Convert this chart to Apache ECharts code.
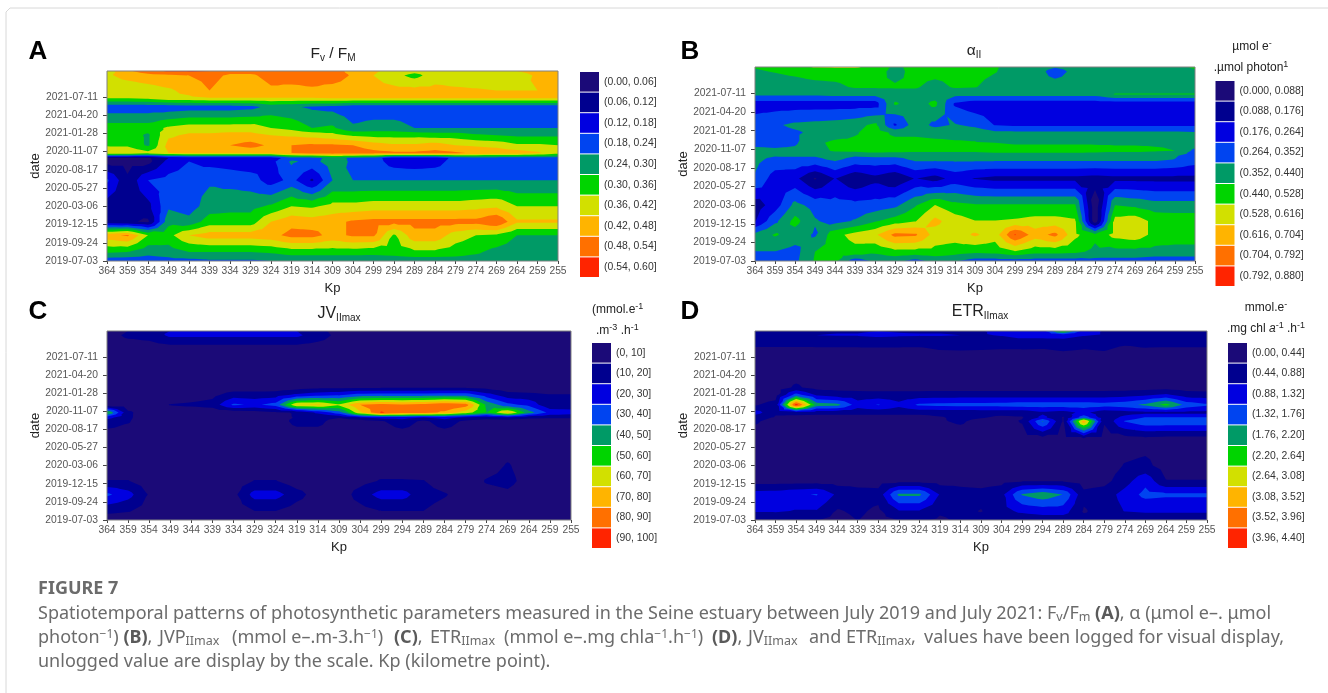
<!DOCTYPE html>
<html><head><meta charset="utf-8"><style>html,body{margin:0;padding:0;background:#fff}#c{width:1328px;height:693px;filter:blur(.4px)}</style>
<script src="https://cdn.jsdelivr.net/npm/echarts@6/dist/echarts.min.js"></script></head><body><div id="c"></div>
<script>
const kpLabels=['364','359','354','349','344','339','334','329','324','319','314','309','304','299','294','289','284','279','274','269','264','259','255'];
const dateLabels=['2019-07-03','2019-09-24','2019-12-15','2020-03-06','2020-05-27','2020-08-17','2020-11-07','2021-01-28','2021-04-20','2021-07-11'];
// sampling rows, in date-tick units from the bottom of the axis
const rowPositions=[0,.5,1.41,2.15,3,4.43,5.45,5.65,5.92,6.35,6.9,7.3,8.45,8.95,9.35,10.18,10.42];
const palette=['#1b0a78','#00008f','#0000e0','#0044f0','#009a66','#00d400','#d2e000','#ffb400','#ff7000','#ff2400'];
// Fv/Fm x100, one row per rowPositions entry, one column per kpLabels entry
const fvfmValues=[
[20,20,21,22,22,23,23,23,24,25,25,25,25,26,26,26,26,27,27,27,26,26,26],
[31,30,26,27,30,30,30,30,31,33,33,33,33,32,33,35,35,33,31,28,27,27,27],
[46,49,36,34,42,45,45,45,46,50,50,46,49,49,35,46,46,39,36,35,30,30,30],
[8,7,5,28,26,33,33,33,42,46,45,46,49,50,50,50,50,50,50,54,43,43,43],
[9,7,10,23,21,27,28,28,31,36,35,38,38,39,39,39,39,39,40,41,36,36,36],
[19,7,18,20,21,23,22,21,15,20,11,24,24,24,24,24,24,24,24,24,24,24,24],
[4,4,4,14,18,16,15,14,16,25,22,27,23,21,15,14,15,21,21,21,21,21,21],
[5,5,5,12,13,13,13,13,14,22,22,26,23,21,14,14,14,20,21,21,21,21,21],
[42,41,38,42,43,43,43,44,44,48,50,51,51,50,49,49,50,49,47,46,45,43,38],
[35,35,29,44,45,46,48,50,47,48,49,49,48,45,43,43,45,42,41,40,37,37,36],
[33,33,29,41,43,43,44,44,42,41,40,38,35,34,34,34,33,33,31,30,29,29,29],
[33,33,33,37,39,39,39,39,36,34,30,31,25,26.5,26.5,24,24,24,24,24,24,24,24],
[20,20,20,20,21,21,21,22,26,25,23,22,20,20,20,20,20,20,20,20,20,20,20],
[37,37,38,41,41,42,42,42,42,42,42,43,43,43,43,43,43,43,43,43,43,43,43],
[38,38,39,41,44,48,45,44,47,46,47,45,44,44,44,44,44,43,42.5,42,42,42,42],
[41,44,46,47,48,50,47,47,50,51,51,52,47,42,38,34,39,39,39,39,39,43,44],
[39,47,51,55,55,54,50,50,50,51,52,52,45,43,40,38,39,40,41,41,42,44,44]];
// alpha x100
const alphaValues=[
[30,30,33,45,46,30,37,38,32,38,36,31,31,31,31,31,31,32,32,32,30,30,30],
[35,35,32,44,47,50,46,50,50,50,48,46,47,52,47,47,46,42,41,41,41,41,41],
[38,45,40,34,50,56,60,73,72,58,57,63,57,80,66,73,55,46,56,58,50,48,48],
[17,33,47,36,32,36,43,48,52,64,57,53,53,54,56,56,54,2,56,58,50,49,49],
[13,22,38,32,30,29,30,33,43,53,47,45,45,45,45,45,45,2,44,42,39,39,39],
[34,22,20,8,18,10,15,10,18,14,21,17,15,15,15,15,15,14,15,15,15,15,15],
[38,32,33,33,37,32,32,32,37,37,37,37,37,37,37,37,37,37,37,37,37,35,31],
[38,36,36,36,38,36,37,37,38,38,38,38,38,38,38,38,38,38,38,38,38,36,31],
[38,37,37,41,45,46,48,47,46,46,46,46,48,48,48,48,48,47,46,46,45,44,33],
[32,32,34,42,46,46,47,47,47,46,45,44.5,44,43,43,43,43,43,43,43,43,43,40],
[32,32,34,37,39,43,48,42,42,41,41,41,37,37,37,37,37,37,37,37,37,37,36],
[31,34,37,38,39,41,46,25,40,33,36,33,26,25,25,25,25,25,25,25,25,25,25],
[22,22,22,22,22,22,22,45,40,46,25,21,21,21,21,21,21,21,21,21,21,21,21],
[37,37,37,37,38,38,38,40,40,40,38,38,38,38,38,38,38,38,44.5,44.5,44.5,44.5,44.5],
[38,39,40,41,42,45,45,45,45,41,45,44.5,40,40,40,40,40,40,40,40,40,40,40],
[43,44.5,46,48,48,49,48,41,47,47,47,47,44.5,40,40,31,38,38,38,38,39,40,43],
[44.5,46,50,53.5,54,54,50,42,47,47,47,47,45,40,40,36,38,38,38,38,38,42,45]];
const jvValues=[
[3,3,3,3,3,3,3,3,3,3,3,3,3,3,3,3,3,3,3,3,3,3,3],
[13,11,5,3,3,3,4,10,10,5,3,3,6,10,10,10,6,3,3,3,3,3,3],
[32,24,9,4,3,3,7,24,24,14,5,3,15,24,24,14,11,5,6,8,4,3,3],
[10.5,10.5,4,3,3,3,4,10.5,10.5,4,3,3,6,11,11,10.5,4,3,11,13,6,3,3],
[3,3,3,3,3,3,3,3,3,3,3,3,3,3,3,3,3,3,5,11,5,3,3],
[3,3,3,3,3,3,3,3,3,3,3,3,3,3,3,3,3,3,3,3,3,3,3],
[15,11,3,3,3,3,3,3,5,13,13,5,5,9,15,8,15,8,5,5,5,6,6],
[24,12,3,3,3,3,3,3,6,11,12,11,19,24,24,20,24,18,14,18,12,11,11],
[52,12,4,3,3,3,3,5,8,11,22,35,68,91,85,84,78,65,50,72,45,27,25],
[4,4,4,10.5,12,14,32,28,34,70,72,62,80,84,82,84,89,85,48,33,27,12,12],
[3,3,3,3,4,7,15,14,15,22,26,28,34,35,35,35,36,36,24,14,13,10.5,10.5],
[3,3,3,3,3,3,4,5,5,6,8,8,9,9,9,9,9,9,7,4,3,3,3],
[3,3,3,3,3,3,3,3,3,3,3,3,3,3,3,3,3,3,3,3,3,3,3],
[3,3,3,3,3,3,3,3,3,3,3,3,3,3,3,3,3,3,3,3,3,3,3],
[3,3,3,3,3,3,3,3,3,3,3,3,3,3,3,3,3,3,3,3,3,3,3],
[6,12,14,22,22,22,22,22,22,22,15,7,4,3,3,3,3,3,3,3,3,3,3],
[4,10,18,20,20,20,20,20,20,20,13,6,3,3,3,3,3,3,3,3,3,3,3]];
// ETR x100
const etrValues=[
[40,42,50,46,30,45,30,45,50,38,50,55,55,50,60,60,55,55,60,60,60,60,60],
[95,95,85,85,40,52,35,85,85,50,55,42,70,100,110,110,40,60,90,95,95,95,95],
[110,112,125,135,80,65,60,185,185,85,70,60,75,180,205,175,55,65,105,145,140,140,140],
[25,25,25,25,25,25,25,30,30,25,25,25,30,40,40,40,25,30,70,120,46,46,46],
[20,20,20,20,20,20,20,20,20,20,20,20,20,20,20,20,20,20,47,55,25,20,20],
[20,20,20,20,20,20,20,20,20,20,20,20,20,20,20,20,20,20,20,25,20,20,20],
[50,28,20,20,20,20,20,20,20,40,50,30,25,48,180,40,340,50,135,165,165,165,165],
[60,40,25,25,25,25,25,25,25,40,55,48,35,40,100,40,160,60,100,135,135,135,135],
[110,50,65,58,58,58,58,58,58,58,58,60,60,60,80,70,100,60,70,75,75,75,75],
[40,60,420,200,190,110,135,100,140,145,148,148,150,155,155,155,155,150,160,185,235,160,140],
[20,25,150,80,65,60,62,62,64,65,65,65,65,65,65,65,65,65,70,80,95,65,60],
[25,25,50,30,30,30,25,25,25,25,25,25,25,25,25,25,25,25,25,25,30,25,25],
[20,20,20,20,20,20,20,20,20,20,20,20,20,20,20,20,20,20,20,20,20,20,20],
[20,20,20,20,20,20,20,20,20,20,20,20,20,20,20,20,20,20,20,20,20,20,20],
[32,32,32,32,32,32,32,32,32,43,44,43,40,40,38,47,40,46,28,36,34,34,34],
[85,85,85,88,90,90,95,92,90,90,88,85,90,100,100,100,90,85,80,80,80,80,80],
[80,80,85,85,85,85,88,85,85,85,85,85,100,110,115,240,110,85,80,80,80,80,80]];
const fvfmLevels=[0,6,12,18,24,30,36,42,48,54,60];
const alphaLevels=[0,8.8,17.6,26.4,35.2,44,52.8,61.6,70.4,79.2,88];
const jvLevels=[0,10,20,30,40,50,60,70,80,90,100];
const etrLevels=[0,44,88,132,176,220,264,308,352,396,440];
const fvfmLegend=['(0.00, 0.06]','(0.06, 0.12]','(0.12, 0.18]','(0.18, 0.24]','(0.24, 0.30]','(0.30, 0.36]','(0.36, 0.42]','(0.42, 0.48]','(0.48, 0.54]','(0.54, 0.60]'];
const alphaLegend=['(0.000, 0.088]','(0.088, 0.176]','(0.176, 0.264]','(0.264, 0.352]','(0.352, 0.440]','(0.440, 0.528]','(0.528, 0.616]','(0.616, 0.704]','(0.704, 0.792]','(0.792, 0.880]'];
const jvLegend=['(0, 10]','(10, 20]','(20, 30]','(30, 40]','(40, 50]','(50, 60]','(60, 70]','(70, 80]','(80, 90]','(90, 100]'];
const etrLegend=['(0.00, 0.44]','(0.44, 0.88]','(0.88, 1.32]','(1.32, 1.76]','(1.76, 2.20]','(2.20, 2.64]','(2.64, 3.08]','(3.08, 3.52]','(3.52, 3.96]','(3.96, 4.40]'];

const panels=[
 {m:fvfmValues,lv:fvfmLevels,lg:fvfmLegend,g:{left:107,top:71,width:451,height:190},leg:{left:580,top:72}},
 {m:alphaValues,lv:alphaLevels,lg:alphaLegend,g:{left:755,top:67,width:440,height:194},leg:{left:1215.5,top:81}},
 {m:jvValues,lv:jvLevels,lg:jvLegend,g:{left:107,top:331,width:464,height:189},leg:{left:592,top:343}},
 {m:etrValues,lv:etrLevels,lg:etrLegend,g:{left:755,top:331,width:452,height:189},leg:{left:1228,top:343}}
];
// region of the surface at or above a level: polygons in data coordinates
function clipAbove(poly,level){
 const out=[];
 for(let i=0;i<poly.length;i++){
  const a=poly[i],b=poly[(i+1)%poly.length];
  const ia=a[2]>=level, ib=b[2]>=level;
  if(ia)out.push(a);
  if(ia!==ib){const t=(level-a[2])/(b[2]-a[2]);out.push([a[0]+t*(b[0]-a[0]),a[1]+t*(b[1]-a[1]),level]);}
 }
 return out;
}
function regionAbove(m,level){
 const res=[];
 for(let r=0;r<m.length-1;r++)for(let c=0;c<m[r].length-1;c++){
  const y0=rowPositions[r],y1=rowPositions[r+1];
  const A=[c,y0,m[r][c]],B=[c+1,y0,m[r][c+1]],C=[c+1,y1,m[r+1][c+1]],D=[c,y1,m[r+1][c]];
  const n=[A,B,C,D].filter(p=>p[2]>=level).length;
  if(n===0)continue;
  if(n===4){res.push([A,B,C,D]);continue;}
  const E=[c+.5,(y0+y1)/2,(A[2]+B[2]+C[2]+D[2])/4];
  [[A,B,E],[B,C,E],[C,D,E],[D,A,E]].forEach(tri=>{const p=clipAbove(tri,level);if(p.length>=3)res.push(p);});
 }
 return res;
}
const option={animation:false,backgroundColor:'#fff',grid:[],xAxis:[],yAxis:[],series:[],legend:[],textStyle:{fontFamily:'Liberation Sans'}};
panels.forEach((p,i)=>{
 option.grid.push(p.g);
 option.xAxis.push({type:'value',gridIndex:i,min:0,max:22,interval:1,name:'Kp',nameLocation:'middle',nameGap:21,
  nameTextStyle:{fontSize:13,color:'#222',fontFamily:'Liberation Sans'},splitLine:{show:false},
  axisLine:{show:false,onZero:false},axisTick:{length:3,lineStyle:{color:'#444'}},
  axisLabel:{fontSize:10.3,color:'#555',margin:5,hideOverlap:false,showMinLabel:true,showMaxLabel:true,formatter:v=>kpLabels[v]}});
 option.yAxis.push({type:'value',gridIndex:i,min:0,max:10.42,name:'date',nameLocation:'middle',nameGap:65,
  nameTextStyle:{fontSize:13,color:'#222',fontFamily:'Liberation Sans'},splitLine:{show:false},
  axisLine:{show:false,onZero:false},axisTick:{length:4,lineStyle:{color:'#444'},customValues:[0,1,2,3,4,5,6,7,8,9]},
  axisLabel:{fontSize:10.3,color:'#555',margin:9,customValues:[0,1,2,3,4,5,6,7,8,9],formatter:v=>dateLabels[v]}});
 p.lg.forEach((name,b)=>{
  const col=palette[b], polys=regionAbove(p.m,p.lv[b]);
  option.series.push({type:'custom',name,xAxisIndex:i,yAxisIndex:i,coordinateSystem:'cartesian2d',silent:true,clip:true,
   itemStyle:{color:col},data:polys.length?[[0]]:[],encode:{x:[],y:[]},
   renderItem:(params,api)=>{
    const d=polys.map(poly=>'M'+poly.map(q=>{const c=api.coord([q[0],q[1]]);return c[0].toFixed(2)+' '+c[1].toFixed(2);}).join('L')+'Z').join('');
    return {type:'path',shape:{pathData:d},style:{fill:col}};
   }});
 });
 option.series.push({type:'custom',name:'border'+i,xAxisIndex:i,yAxisIndex:i,silent:true,clip:false,z:10,data:[[0]],encode:{x:[],y:[]},
  renderItem:(params,api)=>{const a=api.coord([0,0]),b=api.coord([22,10.42]);
   return {type:'rect',shape:{x:a[0],y:b[1],width:b[0]-a[0],height:a[1]-b[1]},style:{fill:null,stroke:'#808080',lineWidth:1}};}});
 option.legend.push({data:p.lg.map(n=>({name:n,icon:'rect'})),orient:'vertical',left:p.leg.left,top:p.leg.top,itemWidth:19,itemHeight:19.6,itemGap:1,padding:0,selectedMode:false,
  textStyle:{fontSize:10.4,color:'#333',fontFamily:'Liberation Sans'}});
});
const base={fontFamily:'Liberation Sans',fill:'#222'};
const txtRich={s:{fontSize:10,padding:[8,0,0,0],fontFamily:'Liberation Sans',fill:'#222'},u:{fontSize:9,padding:[0,0,6,0],fontFamily:'Liberation Sans',fill:'#222'}};
function label(x,y,text,size,align,extra){return {type:'text',x,y,style:Object.assign({},base,{text,fontSize:size,align:align||'center',verticalAlign:'middle',rich:txtRich},extra||{}),silent:true};}
const capCol='#6b6b6b', capFont='Noto Sans';
const capRich={s:{fontSize:12.5,padding:[7,0,0,0],fontFamily:capFont,fill:capCol},u:{fontSize:12,padding:[0,0,7,0],fontFamily:capFont,fill:capCol},b:{fontSize:18,fontWeight:'bold',fontFamily:capFont,fill:'#5a5a5a'}};
function cap(x,y,text){return {type:'text',x,y,style:{text,fontFamily:capFont,fontSize:18,fill:capCol,align:'left',verticalAlign:'middle',rich:capRich},silent:true};}
option.graphic=[
 {type:'polyline',shape:{points:[[6,693],[6,12],[10,8],[1328,8]]},style:{stroke:'#d8d8d8',fill:null,lineWidth:1},silent:true},
 label(38,52,'A',26,'center',{fontWeight:'bold',fill:'#000'}),label(690,52,'B',26,'center',{fontWeight:'bold',fill:'#000'}),
 label(38,312,'C',26,'center',{fontWeight:'bold',fill:'#000'}),label(690,312,'D',26,'center',{fontWeight:'bold',fill:'#000'}),
 label(333,54,'F{s|v} / F{s|M}',15.5),label(974,51,'α{s|II}',15.5),label(339,314,'JV{s|IImax}',16),label(980,312,'ETR{s|IImax}',16),
 label(1252,47,'µmol e{u|-}',12),label(1251,68,'.µmol photon{u|1}',12),
 label(592,310,'(mmol.e{u|-1}',12,'left'),label(596,331,'.m{u|-3} .h{u|-1}',12,'left'),
 label(1266,308,'mmol.e{u|-}',12),label(1266,329,'.mg chl {i|a}{u|-1} .h{u|-1}',12,'center',{rich:Object.assign({i:{fontStyle:'italic',fontSize:12,fill:'#222',fontFamily:'Liberation Sans'}},txtRich)}),
 {type:'text',x:38,y:589,style:{text:'FIGURE 7',fontFamily:capFont,fontWeight:'bold',fontSize:18,fill:capCol,align:'left',verticalAlign:'middle'},silent:true},
 cap(38,614,'Spatiotemporal patterns of photosynthetic parameters measured in the Seine estuary between July 2019 and July 2021: F{s|v}/F{s|m} {b|(A)}, α (μmol e–. μmol'),
 cap(38,638,'photon{u|−1}) {b|(B)},'),cap(159,638,'JVP{s|IImax}'),cap(232,638,'(mmol e–.m-3.h{u|−1})'),cap(394,638,'{b|(C)},'),cap(430,638,'ETR{s|IImax}'),
 cap(504,638,'(mmol e–.mg chla{u|−1}.h{u|−1})'),cap(712,638,'{b|(D)},'),cap(748,638,'JV{s|IImax}'),cap(809,638,'and'),cap(846,638,'ETR{s|IImax},'),
 cap(924,638,'values have been logged for visual display,'),
 cap(38,662,'unlogged value are display by the scale. Kp (kilometre point).')
];
const chart=echarts.init(document.getElementById('c'),null,{renderer:'canvas'});
chart.setOption(option);
</script></body></html>
